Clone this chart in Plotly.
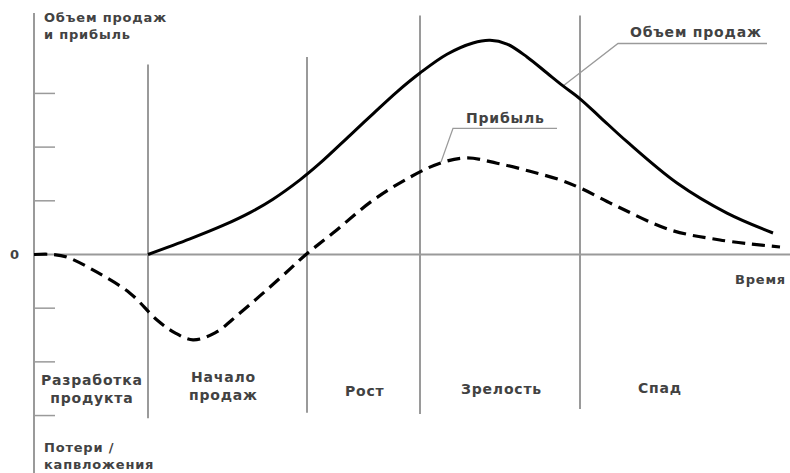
import plotly.graph_objects as go

# ---- data (time in arbitrary units, value in arbitrary units; ticks = 1 unit) ----
sales_t = [11.4, 15.6, 18.9, 21.6, 23.9, 26.6, 28.6, 31.6, 33.9, 36.3, 38.6, 41.3, 43.9, 45.6,
           47.3, 49.3, 51.3, 52.9, 54.6, 56.6, 59.3, 64.3, 69.3, 73.9]
sales_v = [0.0, 0.29, 0.54, 0.78, 1.03, 1.39, 1.70, 2.22, 2.62, 3.03, 3.38, 3.73, 3.94, 3.99,
           3.92, 3.68, 3.38, 3.14, 2.90, 2.56, 2.10, 1.33, 0.77, 0.40]

profit_t = [0.0, 1.9, 3.3, 6.3, 9.6, 12.3, 14.1, 15.9, 18.1, 20.6, 24.6, 27.2,
            29.9, 33.9, 37.6, 40.6, 43.3, 46.3, 49.6, 52.6, 54.6, 58.6, 63.6, 68.6, 74.6]
profit_v = [0.0, 0.0, -0.05, -0.33, -0.72, -1.22, -1.46, -1.59, -1.46, -1.09, -0.44, 0.0,
            0.40, 1.01, 1.44, 1.70, 1.80, 1.70, 1.55, 1.39, 1.24, 0.87, 0.46, 0.27, 0.14]

stage_bounds = [11.4, 27.3, 38.6, 54.6]
stage_names = ["Разработка<br>продукта", "Начало<br>продаж", "Рост", "Зрелость", "Спад"]
stage_label_t = [5.8, 18.9, 33.1, 46.7, 62.6]
stage_label_v = [-2.51, -2.45, -2.55, -2.5, -2.48]
y_ticks = [-3, -2, -1, 1, 2, 3]

GRAY = "#9a9a9a"
TXT = "#424242"
FONT = "DejaVu Sans"

fig = go.Figure()
fig.add_trace(go.Scatter(x=sales_t, y=sales_v, mode="lines",
                         line=dict(color="black", width=3, shape="spline", smoothing=1.0),
                         hoverinfo="skip", showlegend=False))
fig.add_trace(go.Scatter(x=profit_t, y=profit_v, mode="lines",
                         line=dict(color="black", width=3.2, dash="13px,7px", shape="spline", smoothing=1.0),
                         hoverinfo="skip", showlegend=False))

shapes = []
# y axis and zero line
shapes.append(dict(type="line", x0=0, x1=0, y0=4.5, y1=-4.2, line=dict(color=GRAY, width=2)))
shapes.append(dict(type="line", x0=0, x1=75.6, y0=0, y1=0, line=dict(color=GRAY, width=2)))
for v in y_ticks:
    shapes.append(dict(type="line", x0=0, x1=2.1, y0=v, y1=v, line=dict(color=GRAY, width=1.5)))
# stage separators
tops = [3.54, 3.68, 4.45, 4.45]
bots = [-3.05, -2.95, -2.97, -2.88]
for t, y0, y1 in zip(stage_bounds, bots, tops):
    shapes.append(dict(type="line", x0=t, x1=t, y0=y0, y1=y1, line=dict(color=GRAY, width=2)))
# leader lines
shapes.append(dict(type="path", path="M 52.9 3.14 L 58.4 3.93 L 73.3 3.93",
                   line=dict(color=GRAY, width=1.3)))
shapes.append(dict(type="path", path="M 40.7 1.72 L 41.9 2.35 L 52.3 2.35",
                   line=dict(color=GRAY, width=1.3)))
for s in shapes:
    s["layer"] = "below"

ann = []
def add(text, x, y, xanchor="center", size=14, ls=0.8):
    txt = "<br>".join(f'<span style="letter-spacing:{ls}px">{p}</span>' for p in text.split("<br>"))
    ann.append(dict(text=txt, x=x, y=y, xref="x", yref="y", showarrow=False,
                    xanchor=xanchor, yanchor="middle", align="center" if xanchor == "center" else "left",
                    font=dict(family=FONT, size=size, color=TXT, weight="bold")))

add("Объем продаж<br>и прибыль", 0.8, 4.25, xanchor="left", size=13)
add("0", -1.9, 0.0, size=13)
add("Время", 75.4, -0.47, xanchor="right", size=13)
for name, t, v in zip(stage_names, stage_label_t, stage_label_v):
    add(name, t, v)
add("Потери /<br>капвложения", 0.8, -3.75, xanchor="left", size=13)
add("Объем продаж", 66.2, 4.14)
add("Прибыль", 47.1, 2.54)

fig.update_layout(
    width=790, height=473,
    margin=dict(l=0, r=0, t=0, b=0),
    paper_bgcolor="white", plot_bgcolor="white",
    xaxis=dict(range=[-3.4, 75.6], visible=False, fixedrange=True),
    yaxis=dict(range=[-4.07, 4.74], visible=False, fixedrange=True),
    shapes=shapes, annotations=ann,
)
fig.write_html("out.html", config={"displayModeBar": False},
               post_script="document.body.style.margin='0';document.body.style.overflow='hidden';")
